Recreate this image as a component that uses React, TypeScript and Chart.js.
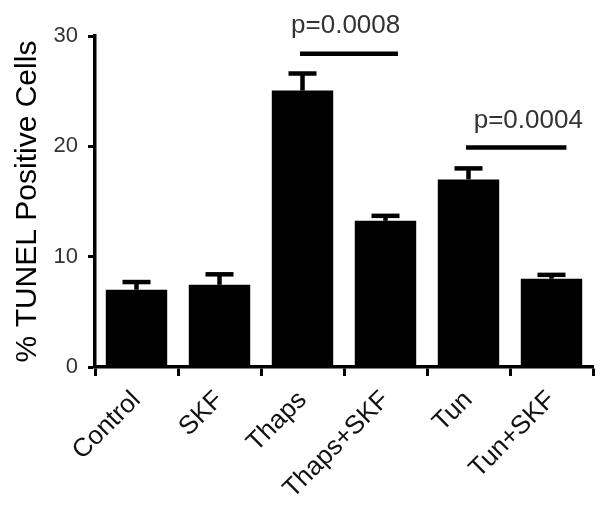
import React, { useEffect, useRef } from "react";
import { Chart, registerables } from "chart.js";

Chart.register(...registerables);

const categories = ["Control", "SKF", "Thaps", "Thaps+SKF", "Tun", "Tun+SKF"];
const values = [7.0, 7.45, 25.05, 13.25, 17.0, 8.0];
const errorTops = [7.7, 8.4, 26.6, 13.7, 18.0, 8.35];
const yTicks = [0, 10, 20, 30];
const yTitle = "% TUNEL Positive Cells";
// significance brackets: from/to in category index units, y in data units
const sigFrom = [1.97, 3.97];
const sigTo = [3.15, 5.18];
const sigY = [28.4, 19.9];
const sigLabels = ["p=0.0008", "p=0.0004"];
const sigLabelX = [2.52, 4.72];
const sigLabelY = [30.3, 21.7];

const FONT = "'Liberation Sans', Arial, Helvetica, sans-serif";

const errorBarPlugin = {
  id: "errorBars",
  afterDatasetsDraw(chart: any) {
    const ctx = chart.ctx;
    const meta = chart.getDatasetMeta(0);
    const y = chart.scales.y;
    ctx.save();
    ctx.strokeStyle = "#000";
    ctx.lineCap = "butt";
    meta.data.forEach((bar: any, i: number) => {
      const x = bar.x;
      const yTop = y.getPixelForValue(errorTops[i]);
      const yVal = y.getPixelForValue(values[i]);
      ctx.lineWidth = 4.5;
      ctx.beginPath();
      ctx.moveTo(x, yVal);
      ctx.lineTo(x, yTop);
      ctx.stroke();
      ctx.beginPath();
      ctx.moveTo(x - 14, yTop);
      ctx.lineTo(x + 14, yTop);
      ctx.stroke();
    });
    ctx.restore();
  },
};

const sigPlugin = {
  id: "sig",
  afterDatasetsDraw(chart: any) {
    const ctx = chart.ctx;
    const xs = chart.scales.x;
    const y = chart.scales.y;
    ctx.save();
    ctx.strokeStyle = "#000";
    ctx.lineWidth = 4.5;
    sigLabels.forEach((label, i) => {
      const x1 = xs.getPixelForValue(sigFrom[i]);
      const x2 = xs.getPixelForValue(sigTo[i]);
      const yy = y.getPixelForValue(sigY[i]);
      ctx.beginPath();
      ctx.moveTo(x1, yy);
      ctx.lineTo(x2, yy);
      ctx.stroke();
      ctx.fillStyle = "#333";
      ctx.font = `26px ${FONT}`;
      ctx.textAlign = "center";
      ctx.textBaseline = "alphabetic";
      ctx.fillText(label, xs.getPixelForValue(sigLabelX[i]), y.getPixelForValue(sigLabelY[i]));
    });
    ctx.restore();
  },
};

export default function App() {
  const ref = useRef<HTMLCanvasElement>(null);
  useEffect(() => {
    document.body.style.margin = "0";
    if (!ref.current) return;
    const chart = new Chart(ref.current, {
      type: "bar",
      data: {
        labels: categories,
        datasets: [
          {
            data: values,
            backgroundColor: "#000",
            borderWidth: 0,
            barPercentage: 0.74,
            categoryPercentage: 1,
          },
        ],
      },
      options: {
        responsive: false,
        animation: false,
        layout: { padding: { top: 36, right: 18, left: 0, bottom: 0 } },
        plugins: { legend: { display: false }, tooltip: { enabled: false } },
        scales: {
          x: {
            offset: true,
            afterFit(scale: any) {
              scale.height = 145;
            },
            grid: {
              display: true,
              drawOnChartArea: false,
              drawTicks: true,
              tickLength: 9,
              tickWidth: 3,
              tickColor: "#000",
              color: "#000",
            },
            border: { display: true, color: "#000", width: 3.5 },
            ticks: {
              minRotation: 45,
              maxRotation: 45,
              autoSkip: false,
              color: "#111",
              padding: 9,
              font: { family: FONT, size: 26 },
            },
          },
          y: {
            min: 0,
            max: 30,
            afterFit(scale: any) {
              scale.width = 95;
            },
            afterBuildTicks(scale: any) {
              scale.ticks = yTicks.map((v) => ({ value: v }));
            },
            grid: {
              display: true,
              drawOnChartArea: false,
              drawTicks: true,
              tickLength: 7,
              tickWidth: 3,
              tickColor: "#000",
              color: "#000",
            },
            border: { display: true, color: "#000", width: 3.5 },
            ticks: {
              color: "#333",
              padding: 10,
              font: { family: FONT, size: 22 },
            },
            title: {
              display: true,
              text: yTitle,
              color: "#000",
              font: { family: FONT, size: 30 },
              padding: { top: 10, bottom: 0 },
            },
          },
        },
      },
      plugins: [errorBarPlugin, sigPlugin],
    });
    return () => chart.destroy();
  }, []);
  return (
    <div style={{ position: "absolute", left: 0, top: 0, width: 611, height: 512, background: "#fff" }}>
      <canvas ref={ref} width={611} height={512} />
    </div>
  );
}
